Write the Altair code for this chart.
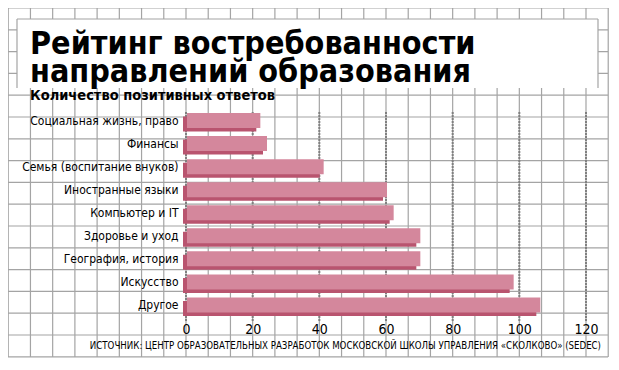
import altair as alt
import pandas as pd

categories = [
    "Социальная жизнь, право",
    "Финансы",
    "Семья (воспитание внуков)",
    "Иностранные языки",
    "Компьютер и IT",
    "Здоровье и уход",
    "География, история",
    "Искусство",
    "Другое",
]
values = [22, 24, 41, 60, 62, 70, 70, 98, 106]
ticks = [0, 20, 40, 60, 80, 100, 120]
title_lines = ["Рейтинг востребованности", "направлений образования"]
subtitle = "Количество позитивных ответов"
source = "ИСТОЧНИК: ЦЕНТР ОБРАЗОВАТЕЛЬНЫХ РАЗРАБОТОК МОСКОВСКОЙ ШКОЛЫ УПРАВЛЕНИЯ «СКОЛКОВО» (SEDEC)"

FONT = "DejaVu Sans Condensed, Liberation Sans Narrow, sans-serif"
LIGHT = "#d4879c"
DARK = "#b9546f"
GRID = "#a4a4a4"
W, H = 400, 207.5

bars_df = pd.DataFrame({"cat": categories, "val": values})
ticks_df = pd.DataFrame({"t": ticks})
# graph-paper background: vertical lines every 1/3 of a tick step, horizontal every 21.8px
vgrid_df = pd.DataFrame({"g": [k * 20 / 3 for k in range(-8, 20)]})
hgrid_df = pd.DataFrame({"py": [-101 + k * 21.8 for k in range(17)]})
one = pd.DataFrame({"a": [0]})

xscale = alt.Scale(domain=[0, 120], nice=False, zero=False)
yscale = alt.Scale(paddingInner=0.35, paddingOuter=0.175)

XAXIS = alt.Axis(
    title=None, values=ticks, grid=False, domain=False, ticks=False,
    labelFont=FONT, labelFontSize=14, labelColor="black",
    labelPadding=6, labelFlush=False, zindex=1,
)
YAXIS = alt.Axis(
    title=None, domain=False, ticks=False, grid=False, labelFont=FONT,
    labelFontSize=12, labelColor="black", labelPadding=8, labelLimit=300,
    zindex=1,
)

vgrid = alt.Chart(vgrid_df).mark_rule(color=GRID, strokeWidth=1.2).encode(
    x=alt.X("g:Q", scale=xscale, axis=XAXIS),
    y=alt.value(-101),
    y2=alt.value(248),
)
hgrid = alt.Chart(hgrid_df).mark_rule(color=GRID, strokeWidth=1.2).encode(
    y=alt.Y("py:Q", scale=None, axis=None),
    x=alt.value(-178),
    x2=alt.value(422),
)
box = alt.Chart(one).mark_rect(fill="white").encode(
    x=alt.value(-169), x2=alt.value(412), y=alt.value(-90), y2=alt.value(-21)
)
box_top = alt.Chart(one).mark_rule(color=GRID, strokeWidth=1.2).encode(
    x=alt.value(-169), x2=alt.value(412), y=alt.value(-90)
)
box_left = alt.Chart(one).mark_rule(color=GRID, strokeWidth=1.2).encode(
    x=alt.value(-169), y=alt.value(-90), y2=alt.value(-21)
)
box_right = alt.Chart(one).mark_rule(color=GRID, strokeWidth=1.2).encode(
    x=alt.value(412), y=alt.value(-90), y2=alt.value(-21)
)

dotted = alt.Chart(ticks_df).mark_rule(
    color="#808080", strokeWidth=2, strokeDash=[2, 1]
).encode(
    x=alt.X("t:Q", scale=xscale, axis=XAXIS),
    y=alt.value(3),
    y2=alt.value(213),
)

dark = alt.Chart(bars_df).mark_bar(
    color=DARK, xOffset=-3, x2Offset=-3, yOffset=3.5, y2Offset=3.5
).encode(
    y=alt.Y("cat:N", sort=categories, scale=yscale, axis=YAXIS),
    x=alt.X("val:Q", scale=xscale, axis=XAXIS),
)

light = alt.Chart(bars_df).mark_bar(
    color=LIGHT, xOffset=1, x2Offset=1
).encode(
    y=alt.Y("cat:N", sort=categories, scale=yscale, axis=YAXIS),
    x=alt.X("val:Q", scale=xscale, axis=XAXIS),
)

def text_layer(txt, x, y, size, weight="normal", align="left"):
    return alt.Chart(pd.DataFrame({"t": [txt]})).mark_text(
        font=FONT, fontSize=size, fontWeight=weight, align=align,
        baseline="alphabetic", color="black",
    ).encode(text="t:N", x=alt.value(x), y=alt.value(y))

t1 = text_layer(title_lines[0], -156, -55, 32, "bold")
t2 = text_layer(title_lines[1], -156, -27, 32, "bold")
sub = text_layer(subtitle, -156, -9, 14.5, "bold")
src = text_layer(source, 415, 240, 9.6, "normal", "right")

chart = alt.layer(
    vgrid, hgrid, box, box_top, box_left, box_right, dotted, dark, light,
    t1, t2, sub, src,
).properties(
    width=W,
    height=H,
    autosize=alt.AutoSizeParams(type="none"),
    padding={"left": 178, "top": 101, "right": 25, "bottom": 44},
    background="white",
).configure_view(stroke=None)

chart.save("out.html", embed_options={"renderer": "svg", "actions": False})
